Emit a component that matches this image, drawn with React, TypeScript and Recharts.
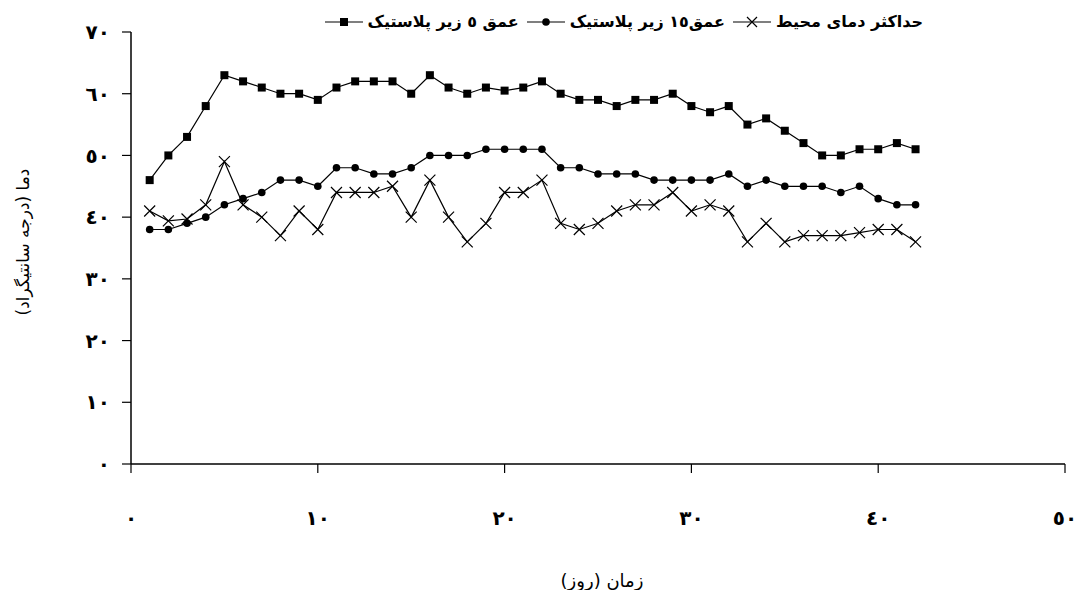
import { LineChart, Line, XAxis, YAxis } from 'recharts';

// روز
const DAYS = [1, 2, 3, 4, 5, 6, 7, 8, 9, 10, 11, 12, 13, 14, 15, 16, 17, 18, 19, 20, 21, 22, 23, 24, 25, 26, 27, 28, 29, 30, 31, 32, 33, 34, 35, 36, 37, 38, 39, 40, 41, 42];

// عمق ۵ زیر پلاستیک
const DEPTH5 = [46, 50, 53, 58, 63, 62, 61, 60, 60, 59, 61, 62, 62, 62, 60, 63, 61, 60, 61, 60.5, 61, 62, 60, 59, 59, 58, 59, 59, 60, 58, 57, 58, 55, 56, 54, 52, 50, 50, 51, 51, 52, 51];

// عمق ۱۵ زیر پلاستیک
const DEPTH15 = [38, 38, 39, 40, 42, 43, 44, 46, 46, 45, 48, 48, 47, 47, 48, 50, 50, 50, 51, 51, 51, 51, 48, 48, 47, 47, 47, 46, 46, 46, 46, 47, 45, 46, 45, 45, 45, 44, 45, 43, 42, 42];

// حداکثر دمای محیط
const AMBIENT = [41, 39.4, 39.7, 42, 49, 42, 40, 37, 41, 38, 44, 44, 44, 45, 40, 46, 40, 36, 39, 44, 44, 46, 39, 38, 39, 41, 42, 42, 44, 41, 42, 41, 36, 39, 36, 37, 37, 37, 37.5, 38, 38, 36];

const X_TICKS = [0, 10, 20, 30, 40, 50];
const Y_TICKS = [0, 10, 20, 30, 40, 50, 60, 70];

const LABEL_D5 = 'عمق ٥ زیر پلاستیک';
const LABEL_D15 = 'عمق١٥ زیر پلاستیک';
const LABEL_AMB = 'حداکثر دمای محیط';

const data = DAYS.map((d, i) => ({ day: d, d5: DEPTH5[i], d15: DEPTH15[i], amb: AMBIENT[i] }));

const FONT = '"DejaVu Sans", sans-serif';

const toArabic = (n: number) => String(n).replace(/\d/g, (c) => '٠١٢٣٤٥٦٧٨٩'[Number(c)]);

const SquareDot = (p: any) => {
  if (p.cx == null || p.cy == null) return <g key={`s-${p.index}`} />;
  return <rect key={`s-${p.index}`} x={p.cx - 4} y={p.cy - 4} width={8} height={8} fill="#000" />;
};

const CircleDot = (p: any) => {
  if (p.cx == null || p.cy == null) return <g key={`c-${p.index}`} />;
  return <circle key={`c-${p.index}`} cx={p.cx} cy={p.cy} r={3.8} fill="#000" />;
};

const CrossDot = (p: any) => {
  if (p.cx == null || p.cy == null) return <g key={`x-${p.index}`} />;
  const s = 5.5;
  return (
    <path
      key={`x-${p.index}`}
      d={`M${p.cx - s},${p.cy - s}L${p.cx + s},${p.cy + s}M${p.cx - s},${p.cy + s}L${p.cx + s},${p.cy - s}`}
      stroke="#000"
      strokeWidth={1.2}
      fill="none"
    />
  );
};

function LegendIcon({ kind }: { kind: 'square' | 'circle' | 'cross' }) {
  return (
    <svg width={38} height={14} style={{ display: 'block' }}>
      <line x1={0} y1={7} x2={38} y2={7} stroke="#000" strokeWidth={1.2} />
      {kind === 'square' && <rect x={15} y={3} width={8} height={8} fill="#000" />}
      {kind === 'circle' && <circle cx={19} cy={7} r={3.8} fill="#000" />}
      {kind === 'cross' && (
        <path d="M14,2L24,12M14,12L24,2" stroke="#000" strokeWidth={1.2} fill="none" />
      )}
    </svg>
  );
}

const legendItems: { kind: 'square' | 'circle' | 'cross'; label: string }[] = [
  { kind: 'square', label: LABEL_D5 },
  { kind: 'circle', label: LABEL_D15 },
  { kind: 'cross', label: LABEL_AMB },
];

export default function App() {
  return (
    <div style={{ position: 'relative', width: 1077, height: 590, background: '#fff', fontFamily: FONT }}>
      <style>{'body{margin:0;background:#fff}'}</style>
      <LineChart
        width={1077}
        height={590}
        data={data}
        margin={{ top: 32, right: 12, left: 0, bottom: 0 }}
      >
        <XAxis
          dataKey="day"
          type="number"
          domain={[0, 50]}
          ticks={X_TICKS}
          tickFormatter={toArabic}
          axisLine={{ stroke: '#000', strokeWidth: 1.5 }}
          tickLine={{ stroke: '#000', strokeWidth: 1.2 }}
          tickSize={9}
          tickMargin={38}
          height={126}
          tick={{ fill: '#000', fontFamily: FONT, fontSize: 20, fontWeight: 'bold' }}
          label={{
            value: 'زمان (روز)',
            position: 'insideBottom',
            offset: 3,
            dx: 4,
            fill: '#000',
            fontFamily: FONT,
            fontSize: 18,
          }}
        />
        <YAxis
          type="number"
          domain={[0, 70]}
          ticks={Y_TICKS}
          tickFormatter={toArabic}
          axisLine={{ stroke: '#000', strokeWidth: 1.5 }}
          tickLine={{ stroke: '#000', strokeWidth: 1.2 }}
          tickSize={9}
          tickMargin={12}
          width={131}
          tick={{ fill: '#000', fontFamily: FONT, fontSize: 20, fontWeight: 'bold' }}
          label={{
            value: 'دما (درجه سانتیگراد)',
            angle: -90,
            position: 'center',
            dx: -43,
            dy: -6,
            fill: '#000',
            fontFamily: FONT,
            fontSize: 17,
          }}
        />
        <Line
          dataKey="d5"
          name={LABEL_D5}
          stroke="#000"
          strokeWidth={1.2}
          dot={SquareDot}
          activeDot={false}
          isAnimationActive={false}
        />
        <Line
          dataKey="d15"
          name={LABEL_D15}
          stroke="#000"
          strokeWidth={1.2}
          dot={CircleDot}
          activeDot={false}
          isAnimationActive={false}
        />
        <Line
          dataKey="amb"
          name={LABEL_AMB}
          stroke="#000"
          strokeWidth={1.2}
          dot={CrossDot}
          activeDot={false}
          isAnimationActive={false}
        />
      </LineChart>
      <div
        style={{
          position: 'absolute',
          top: 12,
          right: 154,
          display: 'flex',
          direction: 'ltr',
          alignItems: 'center',
          fontWeight: 'bold',
          fontSize: 16,
          color: '#000',
        }}
      >
        {legendItems.map((it, i) => (
          <div key={it.label} style={{ display: 'flex', alignItems: 'center', marginLeft: i === 0 ? 0 : 8 }}>
            <LegendIcon kind={it.kind} />
            <span dir="rtl" style={{ marginLeft: 5, whiteSpace: 'nowrap' }}>
              {it.label}
            </span>
          </div>
        ))}
      </div>
    </div>
  );
}
